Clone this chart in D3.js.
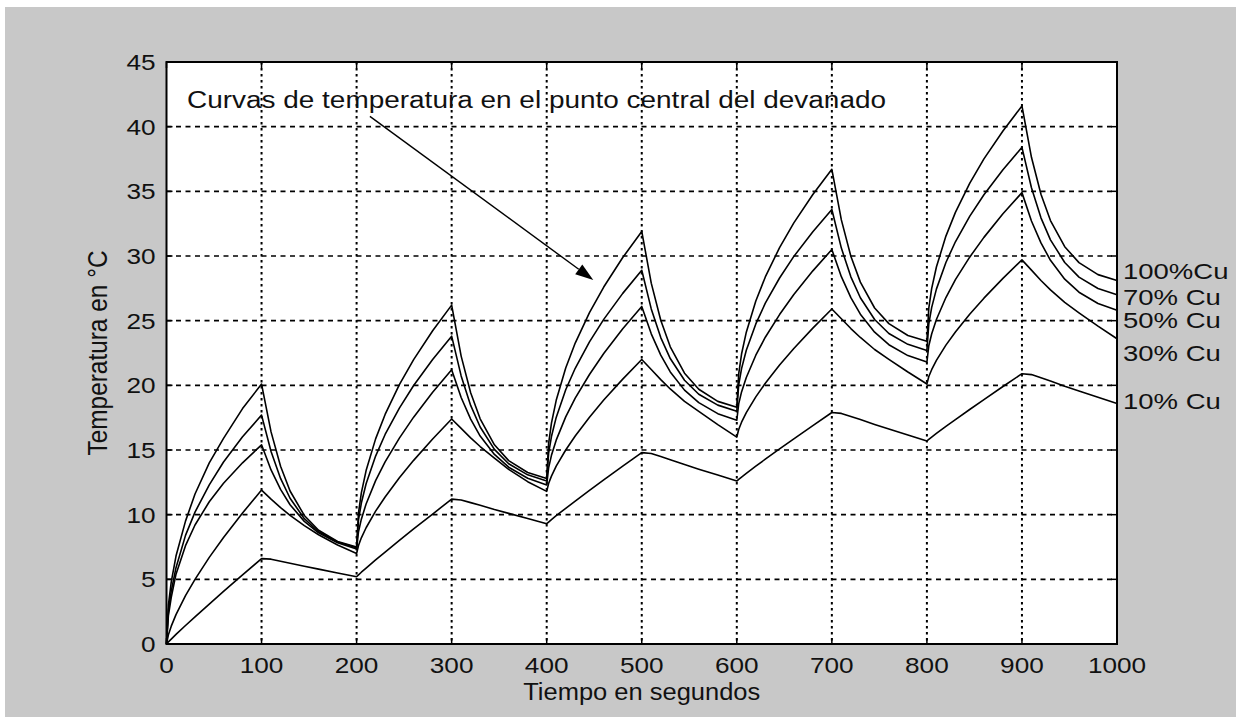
<!DOCTYPE html>
<html>
<head>
<meta charset="utf-8">
<script src="https://cdn.jsdelivr.net/npm/d3@7"></script>
<style>
  html, body { margin: 0; padding: 0; background: #ffffff; }
  svg { display: block; }
</style>
</head>
<body>
<svg id="chart" width="1236" height="717"></svg>
<script>
// Winding centre-point temperature, 100 s heating / 100 s cooling cycles
const seconds = [
  0, 2, 5, 10, 20, 30, 45, 60, 80, 100, 110, 120, 130, 145, 160, 180,
  200, 202, 205, 210, 220, 230, 245, 260, 280, 300, 310, 320, 330, 345, 360, 380,
  400, 402, 405, 410, 420, 430, 445, 460, 480, 500, 510, 520, 530, 545, 560, 580,
  600, 602, 605, 610, 620, 630, 645, 660, 680, 700, 710, 720, 730, 745, 760, 780,
  800, 802, 805, 810, 820, 830, 845, 860, 880, 900, 910, 920, 930, 945, 960, 980,
  1000
];

const cu100 = [
  0, 3.0, 4.8, 6.8, 9.5, 11.6, 14.0, 15.9, 18.2, 20.1, 16.40, 13.74, 11.83, 9.94, 8.80, 7.93,
  7.5, 10.14, 11.69, 13.41, 15.86, 17.75, 20.05, 21.99, 24.22, 26.2, 22.26, 19.43, 17.41, 15.40, 14.18, 13.26,
  12.8, 15.49, 17.08, 18.84, 21.34, 23.27, 25.62, 27.60, 29.88, 31.9, 27.90, 25.03, 22.98, 20.94, 19.70, 18.76,
  18.3, 20.89, 22.42, 24.11, 26.52, 28.38, 30.65, 32.56, 34.75, 36.7, 32.79, 29.98, 27.98, 25.98, 24.77, 23.85,
  23.4, 25.97, 27.48, 29.15, 31.54, 33.37, 35.61, 37.51, 39.67, 41.6, 37.63, 34.78, 32.74, 30.72, 29.49, 28.56,
  28.1
];

const cu70 = [
  0, 2.6, 4.1, 5.9, 8.4, 10.2, 12.3, 14.07, 16.02, 17.7, 14.89, 12.80, 11.27, 9.69, 8.68, 7.89,
  7.45, 9.59, 10.90, 12.39, 14.53, 16.20, 18.24, 19.99, 22.00, 23.8, 20.73, 18.45, 16.78, 15.05, 13.94, 13.08,
  12.6, 14.74, 16.04, 17.52, 19.66, 21.32, 23.36, 25.10, 27.11, 28.9, 25.91, 23.69, 22.07, 20.39, 19.31, 18.47,
  18.0, 20.04, 21.29, 22.71, 24.75, 26.35, 28.30, 29.97, 31.88, 33.6, 30.61, 28.39, 26.77, 25.09, 24.01, 23.17,
  22.7, 24.76, 26.01, 27.44, 29.50, 31.10, 33.06, 34.74, 36.67, 38.4, 35.28, 32.95, 31.25, 29.50, 28.37, 27.49,
  27.0
];

const cu50 = [
  0, 2.2, 3.6, 5.4, 7.6, 9.2, 11.0, 12.43, 14.01, 15.4, 13.46, 11.95, 10.77, 9.48, 8.59, 7.82,
  7.35, 8.68, 9.65, 10.83, 12.63, 14.08, 15.92, 17.54, 19.47, 21.2, 19.06, 17.39, 16.08, 14.66, 13.67, 12.82,
  12.3, 13.62, 14.59, 15.76, 17.56, 19.01, 20.84, 22.46, 24.38, 26.1, 23.98, 22.33, 21.04, 19.63, 18.66, 17.81,
  17.3, 18.57, 19.49, 20.61, 22.33, 23.72, 25.47, 27.02, 28.85, 30.5, 28.40, 26.78, 25.50, 24.11, 23.14, 22.30,
  21.8, 23.06, 23.97, 25.09, 26.79, 28.17, 29.91, 31.44, 33.26, 34.9, 32.71, 31.01, 29.67, 28.21, 27.20, 26.33,
  25.8
];

const cu30 = [
  0, 0.71, 1.38, 2.27, 3.74, 5.00, 6.70, 8.23, 10.13, 11.9, 11.2, 10.55, 9.95, 9.15, 8.45, 7.65,
  7.0, 7.62, 8.21, 8.99, 10.27, 11.37, 12.86, 14.20, 15.85, 17.4, 16.67, 15.94, 15.27, 14.38, 13.5, 12.55,
  11.8, 12.41, 12.98, 13.75, 15.00, 16.08, 17.54, 18.86, 20.48, 22.0, 21.22, 20.44, 19.72, 18.76, 17.98, 16.96,
  16.0, 16.59, 17.15, 17.89, 19.11, 20.16, 21.57, 22.85, 24.42, 25.9, 25.15, 24.39, 23.70, 22.77, 22.01, 21.03,
  20.1, 20.68, 21.21, 21.93, 23.11, 24.13, 25.50, 26.74, 28.27, 29.7, 28.91, 28.11, 27.38, 26.41, 25.61, 24.58,
  23.6
];

const cu10 = [
  0, 0.16, 0.38, 0.74, 1.43, 2.10, 3.09, 4.07, 5.34, 6.6, 6.56, 6.40, 6.25, 6.01, 5.79, 5.49,
  5.2, 5.34, 5.55, 5.87, 6.50, 7.11, 8.01, 8.90, 10.05, 11.2, 11.14, 10.93, 10.73, 10.40, 10.10, 9.70,
  9.3, 9.43, 9.62, 9.92, 10.49, 11.05, 11.87, 12.69, 13.75, 14.8, 14.73, 14.49, 14.25, 13.88, 13.52, 13.06,
  12.6, 12.73, 12.91, 13.19, 13.75, 14.29, 15.08, 15.86, 16.89, 17.9, 17.83, 17.59, 17.35, 16.98, 16.62, 16.16,
  15.7, 15.82, 16.00, 16.28, 16.83, 17.35, 18.13, 18.90, 19.91, 20.9, 20.83, 20.58, 20.33, 19.93, 19.57, 19.08,
  18.6
];

const seriesNames = ["100%Cu", "70% Cu", "50% Cu", "30% Cu", "10% Cu"];
const seriesValues = [cu100, cu70, cu50, cu30, cu10];

const xTicks = [0, 100, 200, 300, 400, 500, 600, 700, 800, 900, 1000];
const yTicks = [0, 5, 10, 15, 20, 25, 30, 35, 40, 45];

const xLabel = "Tiempo en segundos";
const yLabel = "Temperatura en  \u00B0C";
const noteText = "Curvas de temperatura en el punto central del devanado";

// ---- layout ----
const W = 1236, H = 717;
const plot = { left: 166.5, right: 1117, top: 62, bottom: 644 };
const FONT = "'Liberation Sans', Arial, Helvetica, sans-serif";

const x = d3.scaleLinear().domain([0, 1000]).range([plot.left, plot.right]);
const y = d3.scaleLinear().domain([0, 45]).range([plot.bottom, plot.top]);

const svg = d3.select("#chart");

// figure background
svg.append("rect").attr("width", W).attr("height", H).attr("fill", "#ffffff");
svg.append("rect").attr("x", 5).attr("y", 7).attr("width", W - 5).attr("height", H - 7)
  .attr("fill", "#c8c8c8");

// axes area
svg.append("rect")
  .attr("x", plot.left).attr("y", plot.top)
  .attr("width", plot.right - plot.left).attr("height", plot.bottom - plot.top)
  .attr("fill", "#ffffff");

// grid
const grid = svg.append("g").attr("stroke", "#000");
grid.selectAll("line.h").data(yTicks.slice(1, -1)).join("line")
  .attr("class", "h")
  .attr("x1", plot.left).attr("x2", plot.right)
  .attr("y1", d => y(d)).attr("y2", d => y(d))
  .attr("stroke-width", 1.6).attr("stroke-dasharray", "5,4.5");
grid.selectAll("line.v").data(xTicks.slice(1, -1)).join("line")
  .attr("class", "v")
  .attr("x1", d => x(d)).attr("x2", d => x(d))
  .attr("y1", plot.top).attr("y2", plot.bottom)
  .attr("stroke-width", 2).attr("stroke-dasharray", "2.5,3.5");

// inward tick marks on all four sides
const tickLen = 6;
const ticks = svg.append("g").attr("stroke", "#000").attr("stroke-width", 1.5);
yTicks.forEach(v => {
  ticks.append("line").attr("x1", plot.left).attr("x2", plot.left + tickLen).attr("y1", y(v)).attr("y2", y(v));
  ticks.append("line").attr("x1", plot.right).attr("x2", plot.right - tickLen).attr("y1", y(v)).attr("y2", y(v));
});
xTicks.forEach(v => {
  ticks.append("line").attr("x1", x(v)).attr("x2", x(v)).attr("y1", plot.bottom).attr("y2", plot.bottom - tickLen);
  ticks.append("line").attr("x1", x(v)).attr("x2", x(v)).attr("y1", plot.top).attr("y2", plot.top + tickLen);
});

// temperature curves
const line = d3.line().x(d => x(d[0])).y(d => y(d[1]));
svg.append("g").selectAll("path").data(seriesValues).join("path")
  .attr("d", vals => line(seconds.map((t, i) => [t, vals[i]])))
  .attr("fill", "none").attr("stroke", "#000").attr("stroke-width", 1.6)
  .attr("stroke-linejoin", "round");

// frame
svg.append("rect")
  .attr("x", plot.left).attr("y", plot.top)
  .attr("width", plot.right - plot.left).attr("height", plot.bottom - plot.top)
  .attr("fill", "none").attr("stroke", "#000").attr("stroke-width", 2);

// tick labels (wide bitmap-like lettering)
const tickFont = 22, tickStretch = 1.19;
svg.append("g").selectAll("text").data(yTicks).join("text")
  .attr("transform", d => `translate(${plot.left - 11},${y(d) + 8}) scale(${tickStretch},1)`)
  .attr("text-anchor", "end")
  .attr("font-family", FONT).attr("font-size", tickFont).attr("fill", "#111")
  .text(d => d);
svg.append("g").selectAll("text").data(xTicks).join("text")
  .attr("transform", d => `translate(${x(d)},${plot.bottom + 29}) scale(${tickStretch},1)`)
  .attr("text-anchor", "middle")
  .attr("font-family", FONT).attr("font-size", tickFont).attr("fill", "#111")
  .text(d => d);

// axis titles
svg.append("text")
  .attr("x", (plot.left + plot.right) / 2).attr("y", 700)
  .attr("text-anchor", "middle")
  .attr("font-family", FONT).attr("font-size", 23).attr("fill", "#111")
  .attr("textLength", 237).attr("lengthAdjust", "spacingAndGlyphs")
  .text(xLabel);
svg.append("text")
  .attr("transform", `translate(107,${(plot.top + plot.bottom) / 2}) rotate(-90)`)
  .attr("text-anchor", "middle")
  .attr("font-family", FONT).attr("font-size", 27).attr("fill", "#111")
  .attr("textLength", 205).attr("lengthAdjust", "spacingAndGlyphs")
  .text(yLabel);

// annotation and arrow
svg.append("text")
  .attr("x", 187).attr("y", 107.5)
  .attr("font-family", FONT).attr("font-size", 23).attr("fill", "#111")
  .attr("textLength", 699).attr("lengthAdjust", "spacingAndGlyphs")
  .text(noteText);

const arrowFrom = [214, 40.8], arrowTo = [449, 28.15];
const ax0 = x(arrowFrom[0]), ay0 = y(arrowFrom[1]);
const ax1 = x(arrowTo[0]), ay1 = y(arrowTo[1]);
const ang = Math.atan2(ay1 - ay0, ax1 - ax0);
const headLen = 18, headHalf = 6;
const bx = ax1 - headLen * Math.cos(ang), by = ay1 - headLen * Math.sin(ang);
svg.append("line")
  .attr("x1", ax0).attr("y1", ay0).attr("x2", bx).attr("y2", by)
  .attr("stroke", "#000").attr("stroke-width", 1.4);
svg.append("path")
  .attr("d", `M${ax1},${ay1} L${bx + headHalf * Math.sin(ang)},${by - headHalf * Math.cos(ang)} L${bx - headHalf * Math.sin(ang)},${by + headHalf * Math.cos(ang)} Z`)
  .attr("fill", "#000");

// series labels at the right edge
const labelLevels = [28.2, 26.2, 24.4, 21.9, 18.2];
svg.append("g").selectAll("text").data(seriesNames).join("text")
  .attr("transform", (d, i) => `translate(${plot.right + 6},${y(labelLevels[i])}) scale(1.25,1)`)
  .attr("font-family", FONT).attr("font-size", 22).attr("fill", "#111")
  .text(d => d);
</script>
</body>
</html>
